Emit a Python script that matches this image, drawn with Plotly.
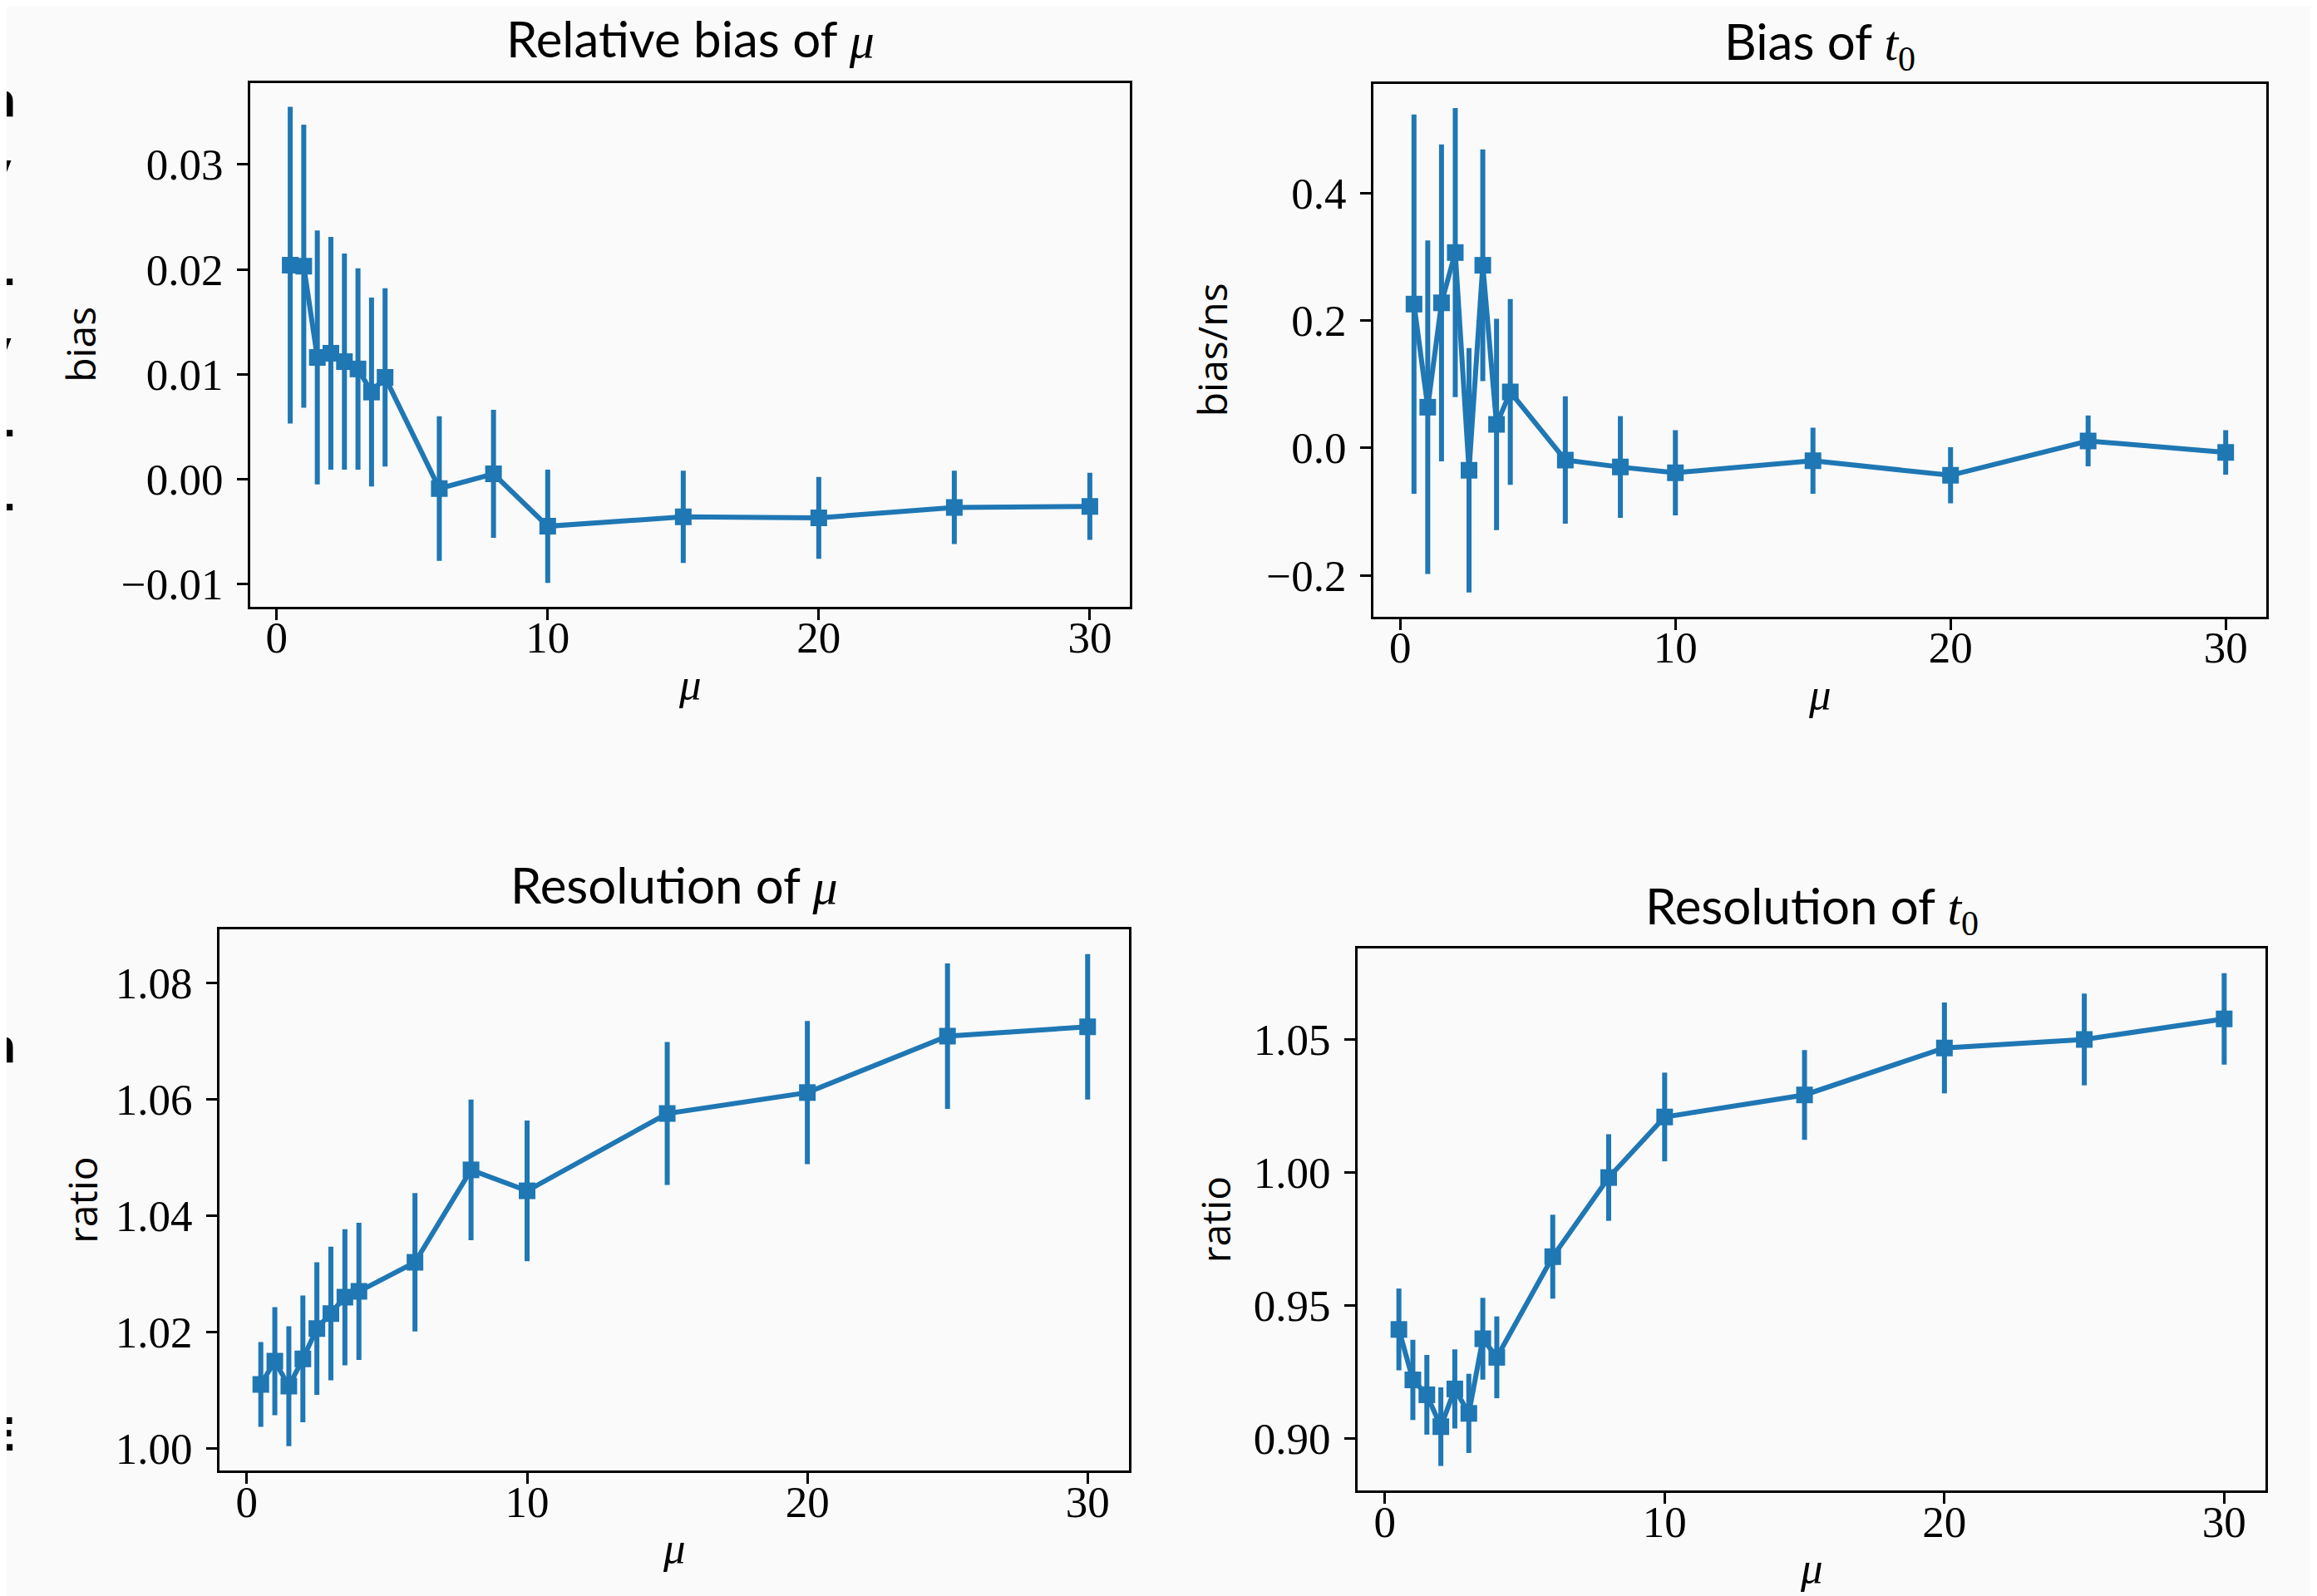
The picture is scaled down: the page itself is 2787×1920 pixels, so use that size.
import plotly.graph_objects as go

# ---------------- data ----------------
mu = [0.5, 1, 1.5, 2, 2.5, 3, 3.5, 4, 6, 8, 10, 15, 20, 25, 30]

bias_mu = [0.0204, 0.0203, 0.0116, 0.0120, 0.0112, 0.0105, 0.0083, 0.0097,
           -0.0009, 0.0005, -0.0045, -0.0036, -0.0037, -0.0027, -0.0026]
bias_mu_err = [0.0151, 0.0135, 0.0121, 0.0111, 0.0103, 0.0096, 0.0090, 0.0085,
               0.0069, 0.0061, 0.0054, 0.0044, 0.0039, 0.0035, 0.0032]

bias_t0 = [0.226, 0.064, 0.228, 0.307, -0.035, 0.287, 0.037, 0.088,
           -0.019, -0.030, -0.039, -0.020, -0.043, 0.011, -0.007]
bias_t0_err = [0.298, 0.262, 0.249, 0.227, 0.192, 0.182, 0.166, 0.146,
               0.100, 0.080, 0.067, 0.052, 0.044, 0.040, 0.035]

res_mu = [1.0110, 1.0150, 1.0107, 1.0154, 1.0206, 1.0232, 1.0260, 1.0270,
          1.0320, 1.0479, 1.0443, 1.0576, 1.0612, 1.0709, 1.0725]
res_mu_err = [0.0073, 0.0093, 0.0103, 0.0109, 0.0114, 0.0115, 0.0117, 0.0118,
              0.0119, 0.0121, 0.0121, 0.0123, 0.0123, 0.0125, 0.0125]

res_t0 = [0.9409, 0.9219, 0.9163, 0.9043, 0.9185, 0.9093, 0.9374, 0.9304,
          0.9683, 0.9981, 1.0209, 1.0292, 1.0469, 1.0501, 1.0578]
res_t0_err = [0.0154, 0.0151, 0.0150, 0.0148, 0.0149, 0.0149, 0.0154, 0.0154,
              0.0158, 0.0163, 0.0167, 0.0169, 0.0171, 0.0173, 0.0172]

x_ticks = [0, 10, 20, 30]
x_ticktext = ["0", "10", "20", "30"]
y1_ticks = [-0.01, 0.00, 0.01, 0.02, 0.03]
y1_ticktext = ["\u22120.01", "0.00", "0.01", "0.02", "0.03"]
y2_ticks = [-0.2, 0.0, 0.2, 0.4]
y2_ticktext = ["\u22120.2", "0.0", "0.2", "0.4"]
y3_ticks = [1.00, 1.02, 1.04, 1.06, 1.08]
y3_ticktext = ["1.00", "1.02", "1.04", "1.06", "1.08"]
y4_ticks = [0.90, 0.95, 1.00, 1.05]
y4_ticktext = ["0.90", "0.95", "1.00", "1.05"]

MU = '<span style="font-family:Liberation Serif"><i>\u03bc</i></span>'
T0 = '<span style="font-family:Liberation Serif"><i>t</i><sub>0</sub></span>'
titles = ["Relative bias of " + MU, "Bias of " + T0,
          "Resolution of " + MU, "Resolution of " + T0]
ylabels = ["bias", "bias/ns", "ratio", "ratio"]

# clipped text fragments visible at the very left edge of the reference
edge_chars = ["n", "y", "-", "y", "-", "-", "n", "E"]

# ---------------- layout geometry (pixels) ----------------
W, H = 2787, 1920
boxes = [  # x0, x1, ytop, ybottom in pixels
    (293, 1351, 92, 723),
    (1644, 2718, 93, 735),
    (256, 1350, 1112, 1764),
    (1625, 2717, 1135, 1788),
]
title_shift = [16, 5, 16, 5]
ylabel_x = [89, 1449, 91, 1453]
edge_y = [113, 196, 328, 410, 510, 599, 1252, 1720]
edge_shift = {"n": 13, "y": 8, "-": 11, "E": 12}

BLUE = "#1f77b4"
BG = "#fafafa"


def pad_range(lo, hi, frac=0.05):
    d = hi - lo
    return [lo - frac * d, hi + frac * d]


series = [(bias_mu, bias_mu_err), (bias_t0, bias_t0_err),
          (res_mu, res_mu_err), (res_t0, res_t0_err)]
yt = [(y1_ticks, y1_ticktext), (y2_ticks, y2_ticktext),
      (y3_ticks, y3_ticktext), (y4_ticks, y4_ticktext)]

fig = go.Figure()
layout = dict(width=W, height=H, autosize=False,
              margin=dict(l=0, r=0, t=0, b=0),
              paper_bgcolor=BG, plot_bgcolor=BG, showlegend=False,
              annotations=[])

tick_font = dict(family="Liberation Serif", size=53, color="black")

for i, ((y, e), (tv, tt), box) in enumerate(zip(series, yt, boxes)):
    n = i + 1
    xa = "x" if n == 1 else f"x{n}"
    ya = "y" if n == 1 else f"y{n}"
    fig.add_trace(go.Scatter(
        x=mu, y=y, xaxis=xa, yaxis=ya, mode="lines+markers",
        line=dict(color=BLUE, width=6),
        marker=dict(symbol="square", size=20, color=BLUE),
        error_y=dict(type="data", array=e, visible=True, color=BLUE,
                     thickness=6, width=0),
    ))
    x0, x1, yt_, yb = box
    lo = min(a - b for a, b in zip(y, e))
    hi = max(a + b for a, b in zip(y, e))
    common = dict(showline=True, mirror=True, linecolor="black", linewidth=3,
                  ticks="outside", ticklen=13, tickwidth=3, tickcolor="black",
                  showgrid=False, zeroline=False, tickfont=tick_font)
    layout["xaxis" if n == 1 else f"xaxis{n}"] = dict(
        domain=[x0 / W, x1 / W], anchor=ya,
        range=pad_range(min(mu), max(mu)),
        tickvals=x_ticks, ticktext=x_ticktext, ticklabelstandoff=-24, **common)
    layout["yaxis" if n == 1 else f"yaxis{n}"] = dict(
        domain=[1 - yb / H, 1 - yt_ / H], anchor=xa,
        range=pad_range(lo, hi),
        tickvals=tv, ticktext=tt, ticklabelstandoff=6, **common)
    cx = (x0 + x1) / 2 / W
    # subplot title
    layout["annotations"].append(dict(
        text=titles[i], xref="paper", yref="paper", x=cx, y=1 - yt_ / H,
        xanchor="center", yanchor="bottom", yshift=title_shift[i],
        showarrow=False,
        font=dict(family="Lato", size=60, color="black")))
    # x label
    layout["annotations"].append(dict(
        text=MU, xref="paper", yref="paper", x=cx, y=1 - yb / H,
        xanchor="center", yanchor="top", yshift=-62, showarrow=False,
        font=dict(family="Liberation Serif", size=53, color="black")))
    # y label
    layout["annotations"].append(dict(
        text=ylabels[i], xref="paper", yref="paper", x=ylabel_x[i] / W,
        y=1 - (yt_ + yb) / 2 / H, xanchor="center", yanchor="middle",
        textangle=-90, showarrow=False,
        font=dict(family="Open Sans", size=48, color="black")))

for ch, ypx in zip(edge_chars, edge_y):
    layout["annotations"].append(dict(
        text="<b>" + ch + "</b>", xref="paper", yref="paper", x=0,
        xshift=edge_shift[ch], y=1 - ypx / H, xanchor="right",
        yanchor="middle", showarrow=False, borderpad=0,
        font=dict(family="DejaVu Sans", size=56, color="black")))

fig.update_layout(**layout)
fig.write_html("out.html")
